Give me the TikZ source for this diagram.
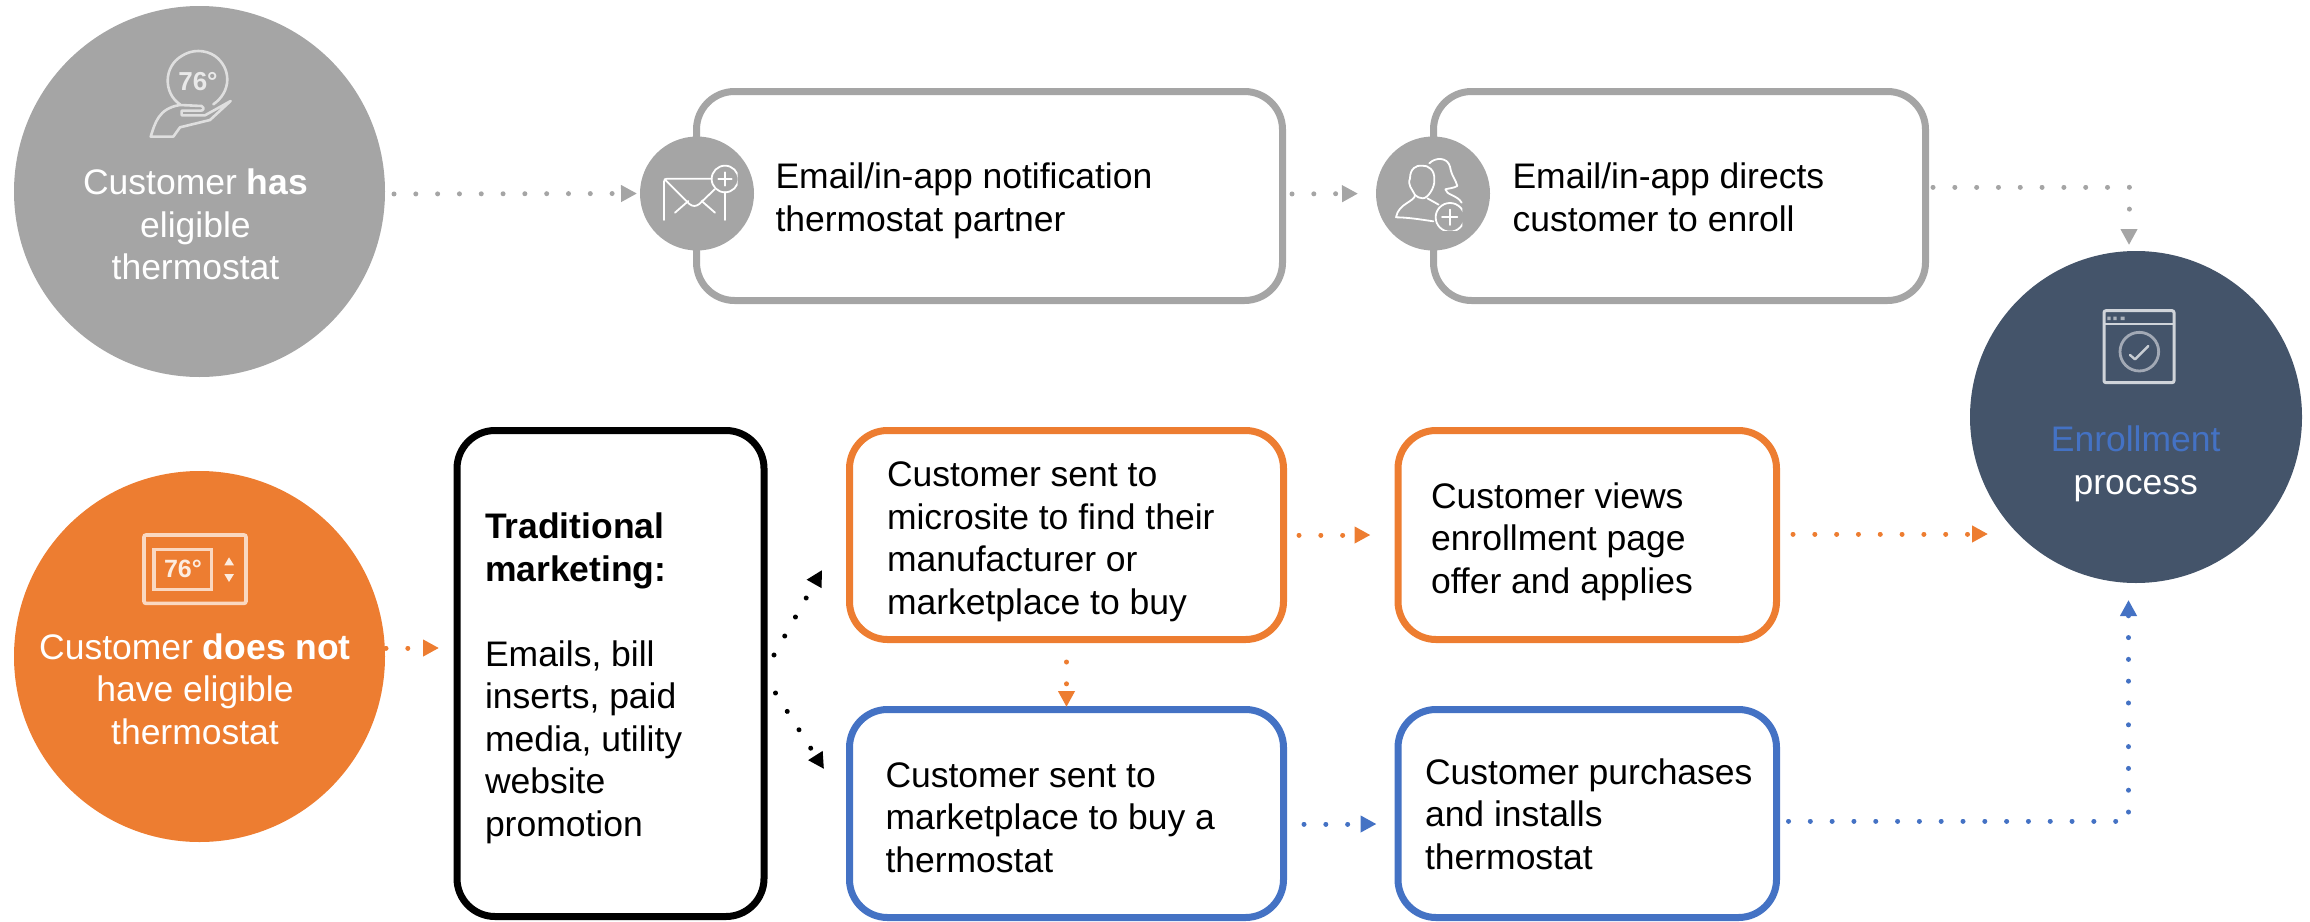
\documentclass[tikz,border=0pt]{standalone}
\usepackage{fontspec}
\setmainfont{Liberation Sans}
\usetikzlibrary{arrows.meta}
\definecolor{cgray}{HTML}{A5A5A5}
\definecolor{corange}{HTML}{ED7D31}
\definecolor{cblue}{HTML}{4472C4}
\definecolor{cdark}{HTML}{44546A}
\tikzset{
  disc/.style={circle,inner sep=0pt,outer sep=0pt,fill=#1},
  stepbox/.style={rectangle,rounded corners=38pt,draw=#1,line width=7pt,fill=white,inner sep=0pt},
  label/.style={inner sep=0pt,outer sep=0pt,align=left,anchor=base west,text=black,font=\fontsize{35.5}{42.5}\selectfont},
  clabel/.style={inner sep=0pt,outer sep=0pt,align=center,anchor=base,text=white,font=\fontsize{35.5}{42.5}\selectfont},
  conn/.style={draw=#1,line width=5pt,line cap=round,dash pattern=on 0.01pt off 21.8pt,
    -{Triangle[length=16pt,width=16pt,#1]}},
  iconline/.style={line width=#1,line cap=round,line join=round},
}
\begin{document}
\begin{tikzpicture}[x=1pt,y=-1pt]
\useasboundingbox (0,0) rectangle (2310,921);
% main circles
\node[disc=cgray,minimum size=371pt] (has) at (199.5,191.5) {};
\node[disc=corange,minimum size=371pt] (hasnot) at (199.5,656.5) {};
\node[disc=cdark,minimum size=332pt] (enroll) at (2136,417) {};
% boxes
\node[stepbox=cgray,minimum width=586pt,minimum height=209pt] (notify) at (989.5,196) {};
\node[stepbox=cgray,minimum width=492pt,minimum height=209pt] (directs) at (1679.5,196) {};
\node[stepbox=black,minimum width=307pt,minimum height=486pt] (trad) at (610.5,673.5) {};
\node[stepbox=corange,minimum width=434pt,minimum height=209pt] (micro) at (1066.5,535) {};
\node[stepbox=cblue,minimum width=434pt,minimum height=208pt] (market) at (1066.5,813.5) {};
\node[stepbox=corange,minimum width=378.5pt,minimum height=209pt] (views) at (1587.25,535) {};
\node[stepbox=cblue,minimum width=378.5pt,minimum height=208pt] (buys) at (1587.25,813.5) {};
% small icon circles
\node[disc=cgray,minimum size=114pt] (mailc) at (697,193.5) {};
\node[disc=cgray,minimum size=114pt] (userc) at (1433,193.5) {};
% connectors
\draw[conn=cgray,shorten <=9pt,shorten >=3pt] ([yshift=-2.5pt]has.east) -- (mailc.west);
\draw[conn=cgray,shorten <=6pt,shorten >=18pt] ([yshift=2pt]notify.east) -- (userc.west);
\draw[conn=cgray,shorten <=4pt] ([yshift=9pt]directs.east) -| ([xshift=-7pt,yshift=6pt]enroll.north);
\draw[conn=corange,shorten <=1pt,shorten >=14.5pt] ([yshift=8.5pt]hasnot.east) -- ([yshift=25.5pt]trad.west);
\draw[conn=black] ([xshift=6.5pt,yshift=18.5pt]trad.east) -- ([xshift=-24pt,yshift=-35pt]micro.west);
\draw[conn=black] ([xshift=8pt,yshift=-19.5pt]trad.east) -- ([xshift=-22pt,yshift=44.5pt]market.west);
\draw[conn=corange,shorten <=12pt,shorten >=24pt] (micro.east) -- (views.west);
\draw[conn=corange,shorten <=13pt] ([yshift=1pt]views.east) -- ([xshift=18pt,yshift=-117pt]enroll.west);
\draw[conn=corange,shorten <=19pt,shorten >=-1pt] (micro.south) -- (market.north);
\draw[conn=cblue,shorten <=17pt,shorten >=18pt] ([yshift=-10.5pt]market.east) -- ([yshift=-10.5pt]buys.west);
\draw[conn=cblue,shorten <=8.5pt] ([yshift=-7.5pt]buys.east) -| ([xshift=-7.5pt,yshift=-17pt]enroll.south);
% texts
\node[clabel] (t1) at (195.5,279.5) {Customer \textbf{has}\\eligible\\thermostat};
\node[clabel] (t2) at (195,744) {Customer \textbf{does not}\\have eligible\\thermostat};
\node[clabel] (t3) at (2135.7,494) {\textcolor{cblue}{Enrollment}\\process};
\node[label] (t4) at (775.5,231) {Email/in-app notification\\thermostat partner};
\node[label] (t5) at (1512.5,231) {Email/in-app directs\\customer to enroll};
\node[label] (t6) at (485,836) {\textbf{Traditional}\\\textbf{marketing:}\\[42.5pt]Emails, bill\\inserts, paid\\media, utility\\website\\promotion};
\node[label] (t7) at (887,614) {Customer sent to\\microsite to find their\\manufacturer or\\marketplace to buy};
\node[label] (t8) at (885.5,872) {Customer sent to\\marketplace to buy a\\thermostat};
\node[label] (t9) at (1431,593) {Customer views\\enrollment page\\offer and applies};
\node[label] (t10) at (1425,869) {Customer purchases\\and installs\\thermostat};
% icon: thermostat in hand
\begin{scope}[shift={(130,40)},x=0.3333pt,y=-0.3333pt,draw=white!65!cgray]
\draw[iconline=2.6pt] (150,193) .. controls (100,160) and (100,80) .. (155,48) .. controls (185,28) and (225,28) .. (255,48) .. controls (305,85) and (305,155) .. (250,193);
\node[inner sep=0pt,text=white!75!cgray,font=\bfseries\fontsize{26}{26}\selectfont] (deg1) at (204,126) {76°};
\draw[iconline=2.6pt] (62,290) .. controls (75,250) and (85,205) .. (150,195) -- (215,198) .. controls (225,205) and (220,212) .. (212,212) -- (155,212) -- (155,226) -- (225,226) -- (302,183) -- (240,240) -- (150,262) -- (130,290) -- cycle;
\end{scope}
% icon: wall thermostat
\begin{scope}[shift={(130,520)},x=0.3333pt,y=-0.3333pt,draw=white!70!corange]
\draw[line width=3.6pt,rounded corners=2pt] (42,45) rectangle (348,250);
\draw[line width=3.2pt] (72,88) rectangle (245,208);
\node[inner sep=0pt,text=white!85!corange,font=\bfseries\fontsize{25}{25}\selectfont] (deg2) at (159,148) {76°};
\fill[white!85!corange] (297,112) -- (312,136) -- (283,136) -- cycle;
\fill[white!85!corange] (297,186) -- (312,162) -- (283,162) -- cycle;
\end{scope}
% icon: envelope
\begin{scope}[shift={(630,130)},x=0.3333pt,y=-0.3333pt,draw=white]
\draw[iconline=1.8pt] (102,270) -- (102,155) .. controls (102,148) and (105,146) .. (112,146) -- (245,146);
\draw[iconline=1.8pt] (106,150) -- (178,222) .. controls (188,230) and (198,230) .. (208,222) -- (254,178);
\draw[iconline=1.8pt] (135,248) -- (175,213);
\draw[iconline=1.8pt] (255,248) -- (215,213);
\draw[iconline=1.8pt] (285,186) -- (285,270);
\begin{scope}
\clip (230,95) rectangle (323,200);
\draw[iconline=1.8pt] (285,147) circle[radius=40];
\end{scope}
\draw[iconline=1.8pt] (265,147) -- (305,147);
\draw[iconline=1.8pt] (285,127) -- (285,167);
\end{scope}
% icon: people
\begin{scope}[shift={(1370,130)},x=0.3333pt,y=-0.3333pt,draw=white]
\draw[iconline=1.8pt] (135,195) .. controls (125,175) and (112,165) .. (120,145) .. controls (120,115) and (140,105) .. (155,107) .. controls (175,105) and (195,120) .. (193,150) .. controls (195,170) and (175,205) .. (158,205) .. controls (148,205) and (140,200) .. (135,195);
\draw[iconline=1.8pt] (135,195) .. controls (135,215) and (85,220) .. (78,262) .. controls (110,262) and (150,268) .. (190,274);
\draw[iconline=1.8pt] (172,205) -- (206,224);
\draw[iconline=1.8pt] (178,100) .. controls (195,82) and (232,80) .. (240,110) .. controls (245,140) and (258,150) .. (262,168) .. controls (250,175) and (235,175) .. (226,178) .. controls (228,195) and (262,195) .. (275,218);
\begin{scope}
\clip (150,200) rectangle (277,302);
\draw[iconline=1.8pt] (240,262) circle[radius=43];
\end{scope}
\draw[iconline=1.8pt] (216,262) -- (262,262);
\draw[iconline=1.8pt] (240,239) -- (240,285);
\end{scope}
% icon: web page
\begin{scope}[shift={(2090,290)},x=0.3333pt,y=-0.3333pt]
\draw[line width=3pt,draw=white!75!cdark,rounded corners=2pt] (42,62) rectangle (252,278);
\draw[line width=2.8pt,draw=white!75!cdark] (42,102) -- (252,102);
\fill[white!55!cdark] (52,80) rectangle (62,90) (70,80) rectangle (80,90) (92,80) rectangle (104,90);
\draw[line width=2.8pt,draw=white!50!cdark] (148,185) circle[radius=58];
\draw[iconline=2.4pt,draw=white!70!cdark] (120,195) -- (135,208) -- (175,168);
\end{scope}
\end{tikzpicture}
\end{document}
